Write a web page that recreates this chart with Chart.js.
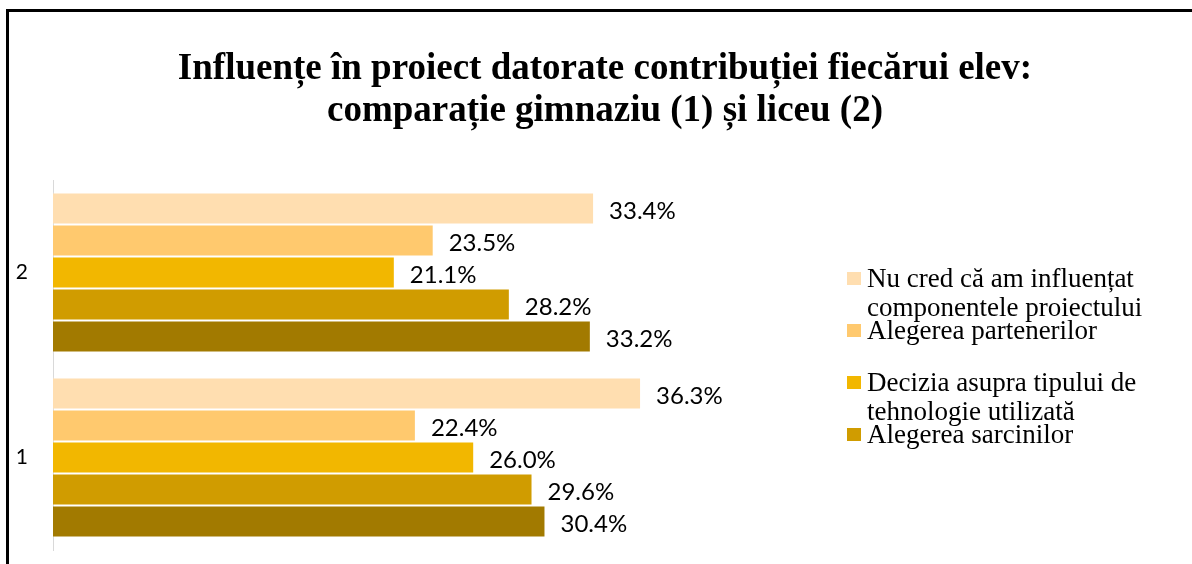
<!DOCTYPE html>
<html>
<head>
<meta charset="utf-8">
<script src="https://cdn.jsdelivr.net/npm/chart.js@4"></script>
<style>
    body { margin: 0; background: #fff; }
    #wrap { position: relative; width: 1192px; height: 564px; overflow: hidden; background: #fff; }
    #frame { position: absolute; left: 6px; top: 9px; width: 1200px; height: 600px; border-left: 3px solid #000; border-top: 3px solid #000; }
    #title { position: absolute; left: 9px; top: 46px; width: 1192px; text-align: center; font: bold 37px 'Liberation Serif', serif; line-height: 42px; color: #000; }
    #legend { position: absolute; left: 847px; top: 272px; }
    .item { position: absolute; left: 0; width: 330px; }
    .item .box { position: absolute; left: 0; top: 0; width: 14px; height: 13px; }
    .item .txt { position: absolute; left: 20px; top: -8px; width: 290px; font: 27px 'Liberation Serif', serif; line-height: 29px; color: #000; }
    canvas { position: absolute; left: 0; top: 0; }
</style>
</head>
<body>
<div id="wrap">
    <div id="frame"></div>
    <canvas id="barChart" width="1192" height="564"></canvas>
    <div id="title">Influențe în proiect datorate contribuției fiecărui elev:<br>comparație gimnaziu (1) și liceu (2)</div>
    <div id="legend"></div>
</div>
<script>
// Data
const categories = ['2', '1'];
const seriesNames = [
    'Nu cred că am influențat componentele proiectului',
    'Alegerea partenerilor',
    'Decizia asupra tipului de tehnologie utilizată',
    'Alegerea sarcinilor',
    'Altele'
];
const nuCred = [33.4, 36.3];
const parteneri = [23.5, 22.4];
const tehnologie = [21.1, 26.0];
const sarcini = [28.2, 29.6];
const altele = [33.2, 30.4];
const seriesColors = ['#FFDEB0', '#FFC96E', '#F2B700', '#D09C00', '#A27A00'];
const legendCount = 4; // last entry is cut off in the original

// value labels at the end of each bar
const valueLabels = {
    id: 'valueLabels',
    afterDatasetsDraw(chart) {
        const ctx = chart.ctx;
        ctx.save();
        ctx.font = '24px Lato, sans-serif';
        ctx.fillStyle = '#000';
        ctx.textAlign = 'left';
        ctx.textBaseline = 'middle';
        chart.data.datasets.forEach((ds, i) => {
            chart.getDatasetMeta(i).data.forEach((bar, j) => {
                ctx.fillText(ds.data[j].toFixed(1) + '%', bar.x + 15, bar.y + 3);
            });
        });
        ctx.restore();
    }
};

const allSeries = [nuCred, parteneri, tehnologie, sarcini, altele];

const chart = new Chart(document.getElementById('barChart'), {
    type: 'bar',
    data: {
        labels: categories,
        datasets: allSeries.map((d, i) => ({
            label: seriesNames[i],
            data: d,
            backgroundColor: seriesColors[i],
            borderColor: 'rgba(255,255,255,0.35)',
            borderWidth: 1,
            barPercentage: 1,
            categoryPercentage: 0.865
        }))
    },
    options: {
        indexAxis: 'y',
        responsive: false,
        animation: false,
        layout: {
            padding: { left: 14, right: 410, top: 180, bottom: 14 }
        },
        plugins: {
            legend: { display: false },
            title: { display: false },
            tooltip: { enabled: false }
        },
        scales: {
            x: {
                display: false,
                min: 0,
                max: 45
            },
            y: {
                grid: { display: false, drawTicks: false },
                border: { display: true, color: '#d9d9d9', width: 1 },
                ticks: {
                    color: '#000',
                    padding: 25,
                    font: { family: 'Lato', size: 21 }
                },
                afterFit(scale) {
                    scale.width = 39;
                    scale.paddingTop = 0;
                    scale.paddingBottom = 0;
                }
            }
        }
    },
    plugins: [valueLabels]
});

// HTML legend
const legendEl = document.getElementById('legend');
for (let i = 0; i < legendCount; i++) {
    const item = document.createElement('div');
    item.className = 'item';
    item.style.top = (i * 52) + 'px';
    item.innerHTML = `<div class="box" style="background:${seriesColors[i]}"></div><div class="txt">${seriesNames[i]}</div>`;
    legendEl.appendChild(item);
}
</script>
</body>
</html>
